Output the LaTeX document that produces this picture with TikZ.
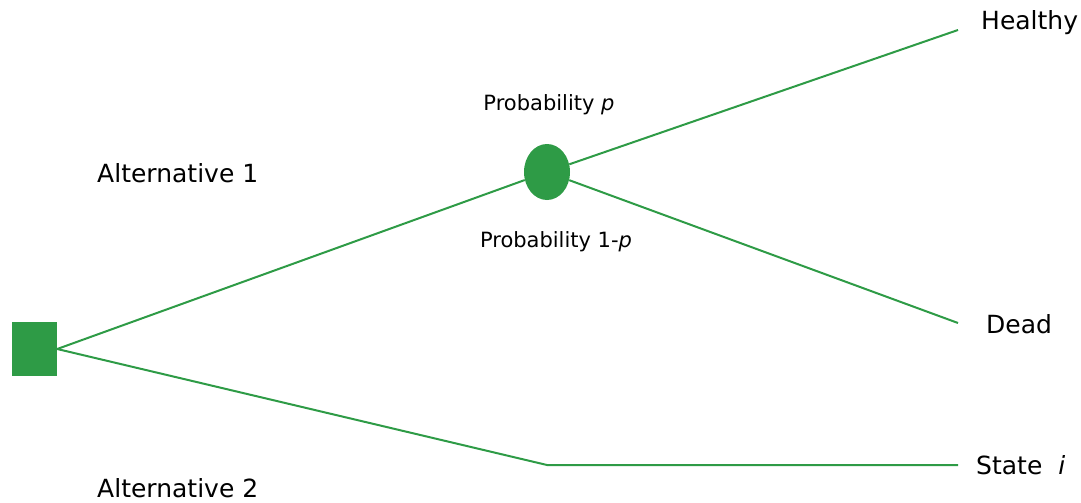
\documentclass[tikz,border=0pt]{standalone}
\usepackage{fontspec}
\setmainfont{DejaVu Sans}
\usetikzlibrary{shapes.geometric}
\definecolor{treegreen}{RGB}{46,155,70}
\tikzset{
  branch/.style={treegreen, line width=2pt},
  leaf/.style={anchor=west, inner sep=0pt, font=\fontsize{25}{30}\selectfont},
  prob/.style={inner sep=0pt, font=\fontsize{21}{25}\selectfont}
}
\begin{document}
\begin{tikzpicture}[x=1pt, y=-1pt]
            \useasboundingbox (0,0) rectangle (1081,503);
            % 决策节点与机会节点
            \node[fill=treegreen, minimum width=45pt, minimum height=54pt, inner sep=0pt] (decision) at (34.5,349) {};
            \node[ellipse, fill=treegreen, minimum width=46pt, minimum height=56pt, inner sep=0pt] (chance) at (547,172) {};

            % 分支端点
            \coordinate (healthyend) at (958,30);
            \coordinate (deadend) at (958,323);
            \coordinate (bend) at (547,465);
            \coordinate (stateend) at (958,465);

            % 分支
            \draw[branch] (decision.east) -- (chance);
            \draw[branch] (chance) -- (healthyend);
            \draw[branch] (chance) -- (deadend);
            \draw[branch] (decision.east) -- (bend) -- (stateend);

            % 文字
            \node[leaf] (healthy) at (981,23) {Healthy};
            \node[leaf] (dead) at (986,324) {Dead};
            \node[leaf] (state) at (976,465) {State\ \ \textit{i}};
            \node[leaf] (alt1) at (97,173) {Alternative 1};
            \node[leaf] (alt2) at (97,488) {Alternative 2};
            \node[prob] (probp) at (549,105) {Probability \textit{p}};
            \node[prob] (probq) at (556,242) {Probability 1-\textit{p}};
        \end{tikzpicture}
\end{document}
